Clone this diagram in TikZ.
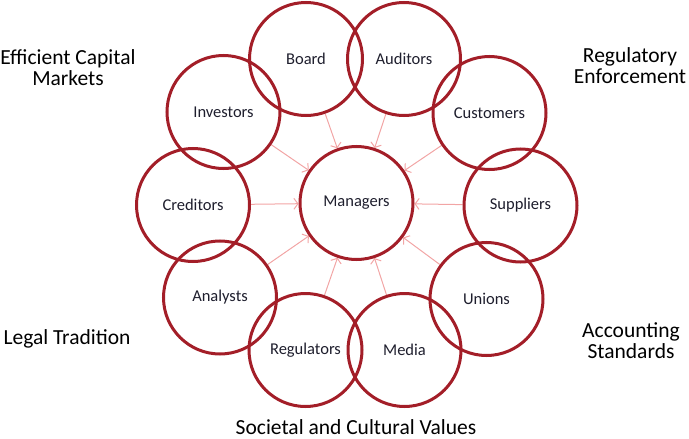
\documentclass[tikz,border=0pt]{standalone}
\usepackage{fontspec}
\setmainfont{Carlito}
\usetikzlibrary{arrows.meta,backgrounds}
\definecolor{ringred}{RGB}{163,30,40}
\definecolor{arrowpink}{RGB}{242,165,165}
\definecolor{labelink}{RGB}{30,30,45}
\tikzset{
  ring/.style={circle,draw=ringred,line width=3pt,minimum size=113pt,inner sep=0pt,
    font=\fontsize{16.5}{19}\selectfont,text=labelink},
  influence/.style={draw=arrowpink,line width=1pt,-{Straight Barb[length=4pt,width=11pt]}},
  outerlabel/.style={font=\fontsize{21.5}{22}\selectfont,align=center,text=black,inner sep=0pt}
}
\begin{document}
\begin{tikzpicture}[x=1pt,y=-1pt]
\useasboundingbox (0,0) rectangle (689,439);
\node[ring] (man) at (356.5,203) {Managers};
\node[ring] (board) at (306,59) {Board};
\node[ring] (aud) at (404,59) {Auditors};
\node[ring] (inv) at (223.5,112) {Investors};
\node[ring] (cus) at (489.5,113) {Customers};
\node[ring] (cred) at (193,205) {Creditors};
\node[ring] (sup) at (520.5,205.5) {Suppliers};
\node[ring] (ana) at (220,297.5) {Analysts};
\node[ring] (uni) at (486.5,299) {Unions};
\node[ring] (reg) at (305.5,350) {Regulators};
\node[ring] (med) at (404.5,350) {Media};
\begin{scope}[on background layer]
\foreach \s in {board,aud,inv,cus,cred,sup,ana,uni,reg,med}
  \draw[influence] (\s) -- (man);
\end{scope}
\node[outerlabel] (ecm) at (68,68) {Efficient Capital\\[-1pt]Markets};
\node[outerlabel] (re) at (630,66) {Regulatory\\[-1pt]Enforcement};
\node[outerlabel] (lt) at (67,339) {Legal Tradition};
\node[outerlabel] (as) at (631,341) {Accounting\\[-1pt]Standards};
\node[outerlabel] (scv) at (356,427) {Societal and Cultural Values};
\end{tikzpicture}
\end{document}
